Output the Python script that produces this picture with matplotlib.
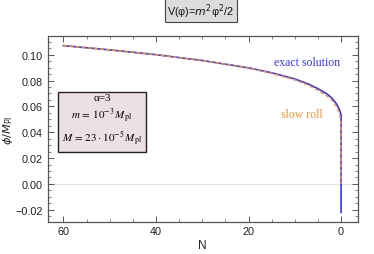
import numpy as np
import matplotlib
matplotlib.use('Agg')
import matplotlib.pyplot as plt
from matplotlib.ticker import MultipleLocator

# values (N counts down to the end of inflation)
N_exact = [60, 50, 40, 30, 20, 15, 10, 7, 5, 3, 2, 1, 0.5, 0.2, 0.0, 0.0]
phi_exact = [0.1070, 0.1037, 0.1000, 0.0955, 0.0898, 0.0860, 0.0812, 0.0772,
             0.0737, 0.0695, 0.0665, 0.0620, 0.0585, 0.0560, 0.0535, -0.0220]

N_slow = [60, 50, 40, 30, 20, 15, 10, 7, 5, 3, 2, 1, 0.5, 0.2, 0.05, 0.0, 0.0]
phi_slow = [0.1070, 0.1037, 0.1000, 0.0955, 0.0896, 0.0856, 0.0805, 0.0763,
            0.0725, 0.0680, 0.0648, 0.0600, 0.0560, 0.0520, 0.0470, 0.0440, 0.0000]

blue = '#3535ff'
orange = '#f7932e'

plt.rcParams['font.family'] = ['Liberation Sans', 'DejaVu Sans']

fig = plt.figure(figsize=(3.74, 2.55), dpi=100)
ax = fig.add_axes([0.1275, 0.1267, 0.829, 0.727])

ax.axhline(0, color='#e3e3e3', lw=0.8, zorder=0)
ax.plot(N_exact, phi_exact, color=blue, lw=1.2)
ax.plot(N_slow, phi_slow, color=orange, lw=1.1, ls=(0, (2.5, 1.5)))

ax.set_xlim(63.4, -3.6)
ax.set_ylim(-0.0292, 0.1142)
ax.xaxis.set_major_locator(MultipleLocator(20))
ax.xaxis.set_minor_locator(MultipleLocator(5))
ax.yaxis.set_major_locator(MultipleLocator(0.02))
ax.yaxis.set_minor_locator(MultipleLocator(0.005))
ax.yaxis.set_major_formatter(matplotlib.ticker.FuncFormatter(
    lambda v, p: ('%.2f' % v).replace('-', '\u2212')))

ax.tick_params(which='both', direction='in', top=True, right=True,
               colors='#555555', labelcolor='#222222', labelsize=7.8)
ax.tick_params(which='major', length=4, width=0.7)
ax.tick_params(which='minor', length=2, width=0.5)
ax.tick_params(axis='x', pad=3)
for s in ax.spines.values():
    s.set_color('#555555')
    s.set_linewidth(0.9)

ax.set_xlabel('N', fontsize=8.5, color='#222222', labelpad=2)
ax.set_ylabel(r'$\phi/M_{\rm Pl}$', fontsize=8.2, color='#222222')
ax.yaxis.set_label_coords(-0.105, 0.5)

ax.text(306.7 / 374, 1 - 63.3 / 255, 'exact solution', transform=fig.transFigure,
        ha='center', va='center', color=blue, fontsize=8.5, family='Liberation Serif')
ax.text(301.7 / 374, 1 - 115 / 255, 'slow roll', transform=fig.transFigure,
        ha='center', va='center', color=orange, fontsize=8.5, family='Liberation Serif')

box_txt = ('\u03b1=3\n'
           r'$m\,=\,10^{-3}\,M_{\rm pl}$' '\n'
           r'$M\,=\,23\cdot10^{-5}\,M_{\rm pl}$')
fig.text(102 / 374, 1 - 121 / 255, box_txt, ha='center', va='center',
         fontsize=8, family='Liberation Serif', math_fontfamily='stix',
         linespacing=1.3,
         bbox=dict(boxstyle='square,pad=0.4', fc='#ecdfe5', ec='#222222', lw=1.0))

fig.text(200.7 / 374, 1 - 11.2 / 255, r'V(φ)=$m^2$φ$^2$/2', ha='center', va='center',
         fontsize=7.8, color='#111111',
         bbox=dict(boxstyle='square,pad=0.25', fc='#dcdcdc', ec='#444444', lw=0.8))

fig.savefig('out.png', dpi=100)
